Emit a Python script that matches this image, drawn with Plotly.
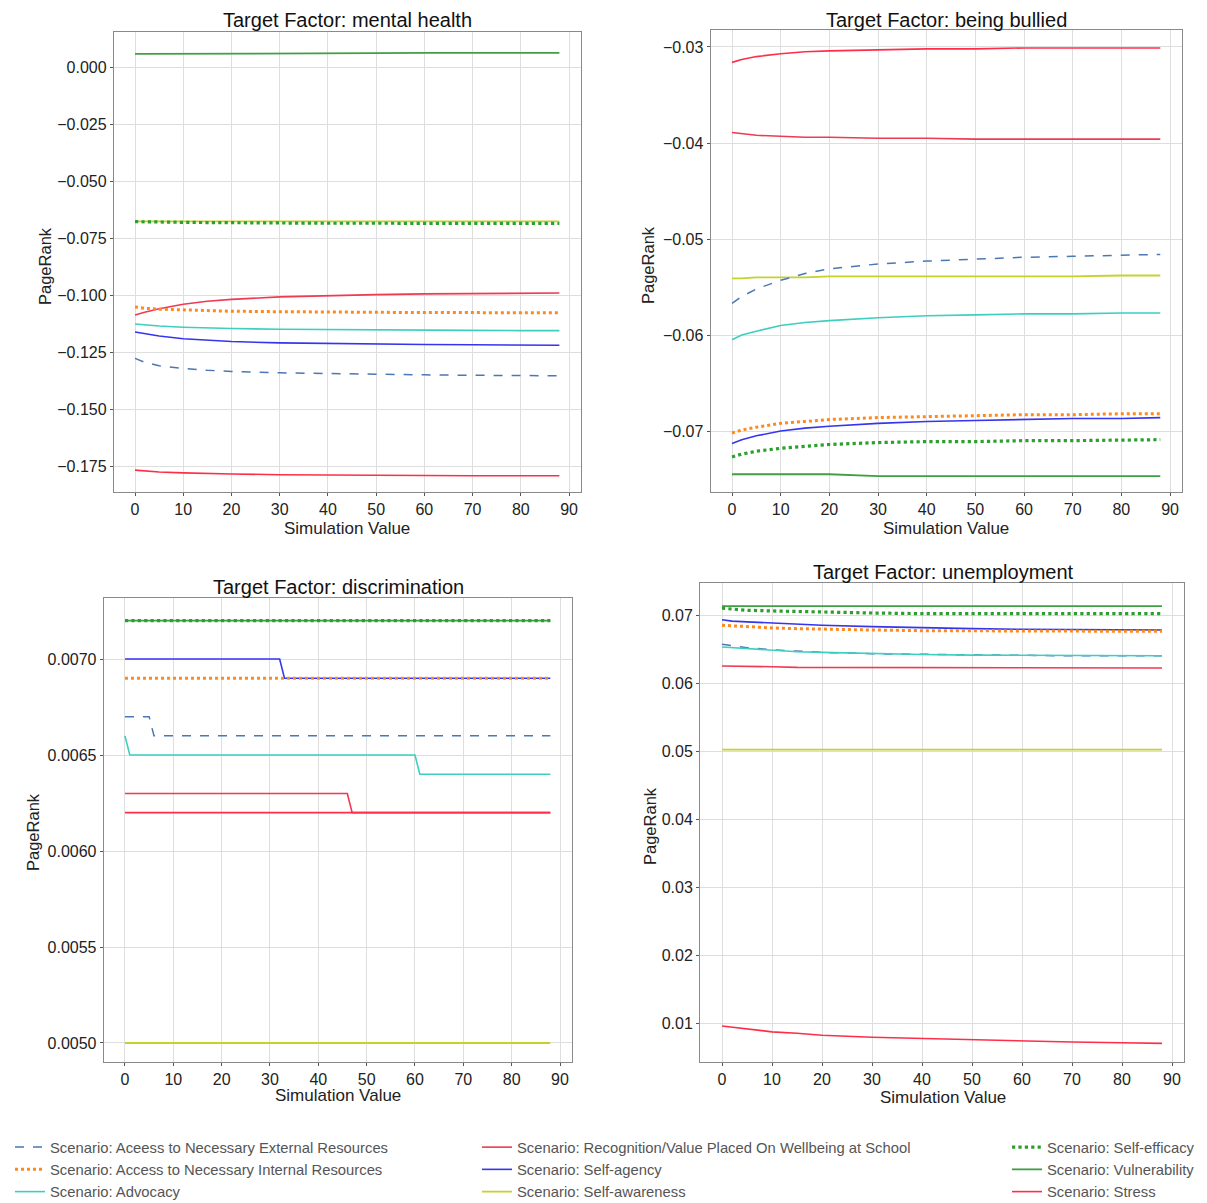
import plotly.graph_objects as go

W, H = 1207, 1203
OFF = 8                      # page body margin of the html page
FW, FH = W - OFF, H - OFF

# ---------------- data ----------------
X = [0, 2, 5, 10, 15, 20, 30, 40, 50, 60, 70, 80, 88]
XC = [0, 88]

series_names = [
    "Scenario: Aceess to Necessary External Resources",
    "Scenario: Access to Necessary Internal Resources",
    "Scenario: Advocacy",
    "Scenario: Recognition/Value Placed On Wellbeing at School",
    "Scenario: Self-agency",
    "Scenario: Self-awareness",
    "Scenario: Self-efficacy",
    "Scenario: Vulnerability",
    "Scenario: Stress",
]

# mental health
mh_ext = [-0.1278, -0.1295, -0.1310, -0.1322, -0.1330, -0.1335, -0.1341, -0.1345, -0.1348, -0.1350, -0.1352, -0.1353, -0.1354]
mh_int = [-0.1052, -0.1058, -0.1062, -0.1066, -0.1069, -0.1071, -0.1073, -0.1075, -0.1076, -0.1077, -0.1077, -0.1078, -0.1078]
mh_adv = [-0.1127, -0.1131, -0.1136, -0.1141, -0.1145, -0.1147, -0.1150, -0.1152, -0.1153, -0.1154, -0.1155, -0.1156, -0.1156]
mh_rec = [-0.1088, -0.1075, -0.1060, -0.1040, -0.1027, -0.1019, -0.1008, -0.1002, -0.0998, -0.0995, -0.0993, -0.0992, -0.0991]
mh_agency = [-0.1162, -0.1170, -0.1180, -0.1192, -0.1199, -0.1204, -0.1210, -0.1213, -0.1216, -0.1217, -0.1218, -0.1219, -0.1220]
mh_aware = [-0.0677, -0.0677]
mh_eff = [-0.0678, -0.0679, -0.0680, -0.0681, -0.0682, -0.0683, -0.0684, -0.0685, -0.0685, -0.0686, -0.0686, -0.0686, -0.0686]
mh_vuln = [0.0058, 0.0058, 0.0059, 0.0059, 0.0060, 0.0060, 0.0061, 0.0061, 0.0061, 0.0062, 0.0062, 0.0062, 0.0062]
mh_stress = [-0.1768, -0.1772, -0.1776, -0.1780, -0.1783, -0.1785, -0.1788, -0.1790, -0.1791, -0.1792, -0.1793, -0.1793, -0.1793]

# being bullied
bb_ext = [-0.0567, -0.0560, -0.0552, -0.0543, -0.0536, -0.0531, -0.0526, -0.0523, -0.0521, -0.0519, -0.0518, -0.0517, -0.0516]
bb_int = [-0.0702, -0.0699, -0.0696, -0.0692, -0.0690, -0.0688, -0.0686, -0.0685, -0.0684, -0.0683, -0.0683, -0.0682, -0.0682]
bb_adv = [-0.0605, -0.0600, -0.0596, -0.0590, -0.0587, -0.0585, -0.0582, -0.0580, -0.0579, -0.0578, -0.0578, -0.0577, -0.0577]
bb_rec = [-0.0389, -0.0390, -0.0392, -0.0393, -0.0394, -0.0394, -0.0395, -0.0395, -0.0396, -0.0396, -0.0396, -0.0396, -0.0396]
bb_agency = [-0.0713, -0.0709, -0.0705, -0.0700, -0.0697, -0.0695, -0.0692, -0.0690, -0.0689, -0.0688, -0.0687, -0.0687, -0.0686]
bb_aware = [-0.0541, -0.0541, -0.0540, -0.0540, -0.0540, -0.0539, -0.0539, -0.0539, -0.0539, -0.0539, -0.0539, -0.0538, -0.0538]
bb_eff = [-0.0727, -0.0724, -0.0721, -0.0718, -0.0716, -0.0714, -0.0712, -0.0711, -0.0711, -0.0710, -0.0710, -0.0709, -0.0709]
bb_vuln = [-0.0745, -0.0745, -0.0745, -0.0745, -0.0745, -0.0745, -0.0747, -0.0747, -0.0747, -0.0747, -0.0747, -0.0747, -0.0747]
bb_stress = [-0.0316, -0.0313, -0.0310, -0.0307, -0.0305, -0.0304, -0.0303, -0.0302, -0.0302, -0.0301, -0.0301, -0.0301, -0.0301]

# discrimination (step series, own x positions)
di_ext_x = [0, 5, 6, 88]
di_ext = [0.0067, 0.0067, 0.0066, 0.0066]
di_int_x = [0, 88]
di_int = [0.0069, 0.0069]
di_adv_x = [0, 1, 60, 61, 88]
di_adv = [0.0066, 0.0065, 0.0065, 0.0064, 0.0064]
di_rec_x = [0, 46, 47, 88]
di_rec = [0.0063, 0.0063, 0.0062, 0.0062]
di_agency_x = [0, 32, 33, 88]
di_agency = [0.0070, 0.0070, 0.0069, 0.0069]
di_aware_x = [0, 88]
di_aware = [0.0050, 0.0050]
di_eff_x = [0, 88]
di_eff = [0.0072, 0.0072]
di_vuln_x = [0, 88]
di_vuln = [0.0072, 0.0072]
di_stress_x = [0, 88]
di_stress = [0.0062, 0.0062]

# unemployment
un_ext = [0.0657, 0.0655, 0.0652, 0.0649, 0.0647, 0.0645, 0.0643, 0.0642, 0.0641, 0.0641, 0.0640, 0.0640, 0.0640]
un_int = [0.0685, 0.0684, 0.0683, 0.0681, 0.0680, 0.0679, 0.0678, 0.0677, 0.0677, 0.0676, 0.0676, 0.0676, 0.0676]
un_adv = [0.0653, 0.0652, 0.0650, 0.0648, 0.0646, 0.0645, 0.0643, 0.0642, 0.0641, 0.0641, 0.0640, 0.0640, 0.0640]
un_rec = [0.0625, 0.0625, 0.0624, 0.0624, 0.0623, 0.0623, 0.0622, 0.0622, 0.0622, 0.0622, 0.0622, 0.0622, 0.0622]
un_agency = [0.0693, 0.0691, 0.0690, 0.0688, 0.0686, 0.0685, 0.0683, 0.0681, 0.0680, 0.0679, 0.0679, 0.0678, 0.0678]
un_aware = [0.0502, 0.0502]
un_eff = [0.0710, 0.0709, 0.0707, 0.0706, 0.0705, 0.0704, 0.0703, 0.0702, 0.0702, 0.0702, 0.0702, 0.0702, 0.0702]
un_vuln = [0.0713, 0.0713]
un_stress = [0.00956, 0.0094, 0.0091, 0.0087, 0.0085, 0.0082, 0.0079, 0.0077, 0.0075, 0.0073, 0.0072, 0.0071, 0.0070]

titles = ["Target Factor: mental health", "Target Factor: being bullied",
          "Target Factor: discrimination", "Target Factor: unemployment"]

# ---------------- styles ----------------
styles = [
    dict(color="#4b77b4", dash="dash", width=1.5),
    dict(color="#ff8a1c", dash="dot", width=3),
    dict(color="#3ccfc0", dash="solid", width=1.6),
    dict(color="#ee3a52", dash="solid", width=1.6),
    dict(color="#3535ee", dash="solid", width=1.6),
    dict(color="#c6d12c", dash="solid", width=1.8),
    dict(color="#2ca02c", dash="dot", width=3.2),
    dict(color="#3f9f45", dash="solid", width=1.8),
    dict(color="#ff2e48", dash="solid", width=1.6),
]
legend_of = ["legend", "legend", "legend", "legend2", "legend2", "legend2", "legend3", "legend3", "legend3"]

panels = [
    [(X, mh_ext), (X, mh_int), (X, mh_adv), (X, mh_rec), (X, mh_agency), (XC, mh_aware), (X, mh_eff), (X, mh_vuln), (X, mh_stress)],
    [(X, bb_ext), (X, bb_int), (X, bb_adv), (X, bb_rec), (X, bb_agency), (X, bb_aware), (X, bb_eff), (X, bb_vuln), (X, bb_stress)],
    [(di_ext_x, di_ext), (di_int_x, di_int), (di_adv_x, di_adv), (di_rec_x, di_rec), (di_agency_x, di_agency),
     (di_aware_x, di_aware), (di_eff_x, di_eff), (di_vuln_x, di_vuln), (di_stress_x, di_stress)],
    [(X, un_ext), (X, un_int), (X, un_adv), (X, un_rec), (X, un_agency), (XC, un_aware), (X, un_eff), (XC, un_vuln), (X, un_stress)],
]
# draw order so dotted series sit on top like the reference
draw_order = [7, 5, 0, 2, 3, 8, 4, 1, 6]

# pixel geometry of each panel in the target picture: (left, right), (top, bottom), y range, ticks
geo = [
    dict(px=(113.8, 580.6), py=(32, 492), yr=(-0.1864, 0.0154), dt=0.025, fmt=".3f"),
    dict(px=(710.6, 1181.7), py=(30, 492), yr=(-0.07635, -0.02823), dt=0.01, fmt=".2f"),
    dict(px=(103.7, 571.6), py=(598, 1062), yr=(0.004901, 0.007318), dt=0.0005, fmt=".4f"),
    dict(px=(700, 1184), py=(583, 1062), yr=(0.004265, 0.07471), dt=0.01, fmt=".2f"),
]


def fx(px):
    return (px - OFF) / FW


def fy(py):
    return 1 - (py - OFF) / FH


FONT = "Liberation Sans, Arial, sans-serif"
fig = go.Figure()

for p in range(4):
    sfx = "" if p == 0 else str(p + 1)
    for i in draw_order:
        xs, ys = panels[p][i]
        st = styles[i]
        fig.add_trace(go.Scatter(
            x=xs, y=ys, mode="lines", name=series_names[i],
            line=dict(color=st["color"], dash=st["dash"], width=st["width"]),
            xaxis="x" + sfx, yaxis="y" + sfx,
            showlegend=(p == 0), legend=legend_of[i],
            legendrank=i + 1,
        ))

axis_common = dict(showgrid=True, gridcolor="#dedede", gridwidth=1, zeroline=False,
                   showline=True, linecolor="#8a8a8a", linewidth=1, mirror=True,
                   ticks="outside", ticklen=3, tickcolor="#555555", ticklabelstandoff=0,
                   tickfont=dict(family=FONT, size=16, color="#222222"))

layout = dict(width=FW, height=FH, margin=dict(l=0, r=0, t=0, b=0, autoexpand=False),
              paper_bgcolor="white", plot_bgcolor="white",
              font=dict(family=FONT, color="#222222"))

for p, g in enumerate(geo):
    sfx = "" if p == 0 else str(p + 1)
    xd = [fx(g["px"][0]), fx(g["px"][1])]
    yd = [fy(g["py"][1]), fy(g["py"][0])]
    layout["xaxis" + sfx] = dict(axis_common, domain=xd, range=[-4.4, 92.4], dtick=10, tick0=0,
                                 anchor="y" + sfx)
    layout["yaxis" + sfx] = dict(axis_common, domain=yd, range=list(g["yr"]), dtick=g["dt"], tick0=0,
                                 tickformat=g["fmt"], anchor="x" + sfx)

leg_common = dict(orientation="v", yanchor="top", xanchor="left", bgcolor="rgba(0,0,0,0)",
                  font=dict(family=FONT, size=14.8, color="#555555"), tracegroupgap=0,
                  itemwidth=30)
layout["legend"] = dict(leg_common, x=fx(10), y=fy(1131))
layout["legend2"] = dict(leg_common, x=fx(477), y=fy(1131))
layout["legend3"] = dict(leg_common, x=fx(1007), y=fy(1131))

ann = []
title_pos = [(347, 20), (946, 20), (338, 587), (943, 572)]
xt_pos = [(347, 528), (946, 528), (338, 1095), (943, 1097)]
yt_pos = [(45, 266), (648, 265), (33, 832), (650, 826)]
for p in range(4):
    tx, ty = title_pos[p]
    ann.append(dict(text=titles[p], x=fx(tx), y=fy(ty), xref="paper", yref="paper",
                    showarrow=False, xanchor="center", yanchor="middle",
                    font=dict(family=FONT, size=20, color="#111111")))
    ax, ay = xt_pos[p]
    ann.append(dict(text="Simulation Value", x=fx(ax), y=fy(ay), xref="paper", yref="paper",
                    showarrow=False, xanchor="center", yanchor="middle",
                    font=dict(family=FONT, size=17, color="#222222")))
    yx, yy = yt_pos[p]
    ann.append(dict(text="PageRank", x=fx(yx), y=fy(yy), xref="paper", yref="paper",
                    showarrow=False, xanchor="center", yanchor="middle", textangle=-90,
                    font=dict(family=FONT, size=16.5, color="#222222")))
layout["annotations"] = ann

fig.update_layout(**layout)
fig.write_html("out.html")
